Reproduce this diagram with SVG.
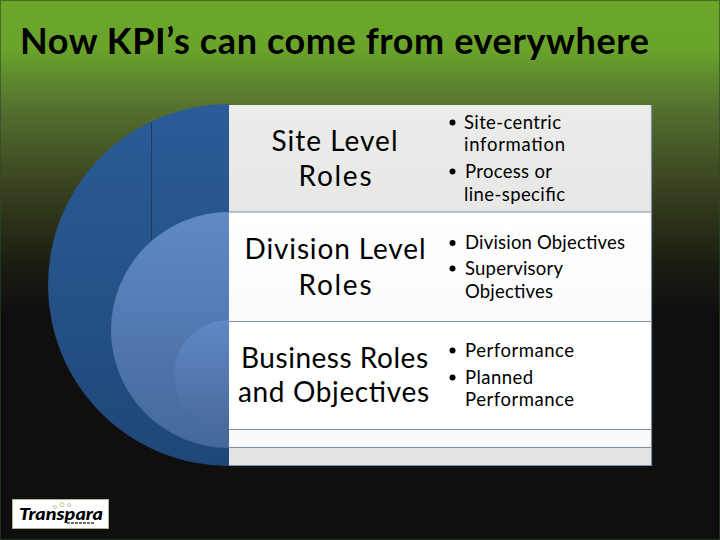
<svg xmlns="http://www.w3.org/2000/svg" width="720" height="540" viewBox="0 0 720 540">
<style>
text{font-family:"Lato","Open Sans","Liberation Sans",sans-serif;fill:#000}
.h{font-size:28px;text-anchor:middle}
.b{font-size:18.500px}
.d{fill:#000}
.rule{stroke:#7d8fa3;stroke-width:1.2}
</style>
<defs>
<linearGradient id="bg" x1="0" y1="0" x2="0" y2="1"><stop offset="0" stop-color="#6ba62b"/><stop offset="0.09" stop-color="#6aa42b"/><stop offset="0.2" stop-color="#557030"/><stop offset="0.34" stop-color="#3a4420"/><stop offset="0.48" stop-color="#1c1f12"/><stop offset="0.58" stop-color="#0f0f0f"/><stop offset="1" stop-color="#0f0f0f"/></linearGradient>
<linearGradient id="c1" x1="0" y1="0" x2="0" y2="1"><stop offset="0" stop-color="#2b5c98"/><stop offset="1" stop-color="#1f4777"/></linearGradient>
<linearGradient id="c2" x1="0" y1="0" x2="0" y2="1"><stop offset="0" stop-color="#6089c6"/><stop offset="1" stop-color="#44689a"/></linearGradient>
<linearGradient id="c3" x1="0" y1="0" x2="0" y2="1"><stop offset="0" stop-color="#5f88c6"/><stop offset="1" stop-color="#49699a"/></linearGradient>
<linearGradient id="r1" x1="0" y1="0" x2="0" y2="1"><stop offset="0" stop-color="#ecedeb"/><stop offset="1" stop-color="#e7e7e6"/></linearGradient>
<linearGradient id="r2" x1="0" y1="0" x2="0" y2="1"><stop offset="0" stop-color="#ffffff"/><stop offset="1" stop-color="#fbfbfd"/></linearGradient>
<clipPath id="left"><rect x="0" y="0" width="229" height="540"/></clipPath>
</defs>
<rect width="720" height="540" fill="url(#bg)"/>
<rect x="0.5" y="0.5" width="719" height="539" fill="none" stroke="#2a4a25" stroke-opacity="0.6"/>
<text id="title" x="20" y="54" font-size="36" font-weight="700" textLength="629" lengthAdjust="spacing">Now KPI’s can come from everywhere</text>
<g id="circles" clip-path="url(#left)">
<circle cx="229" cy="285" r="181" fill="url(#c1)"/>
<line x1="151.500" y1="122" x2="151.500" y2="240" stroke="#1b3d62" stroke-width="1"/>
<circle cx="229" cy="330" r="118" fill="url(#c2)"/>
<circle cx="229" cy="375" r="55" fill="url(#c3)"/>
</g>
<g id="panel">
<rect x="229" y="105" width="422" height="107" fill="url(#r1)"/>
<rect x="229" y="212" width="422" height="109" fill="url(#r2)"/>
<rect x="229" y="321" width="422" height="109" fill="#fff"/>
<rect x="229" y="430" width="422" height="17" fill="#fafafc"/>
<rect x="229" y="447" width="422" height="18" fill="#e3e4e5"/>
<path class="rule" d="M229 212H652M229 321.500H652M229 429.500H652M229 447.500H652" fill="none"/>
<path d="M651.500 105V465.500H229" fill="none" stroke="#7d8fa3" stroke-width="1.200"/>
</g>
<g id="site-level">
<text class="h" x="334.500" y="151" textLength="126" lengthAdjust="spacing">Site Level</text>
<text class="h" x="335" y="186" textLength="73" lengthAdjust="spacing">Roles</text>
<g id="site-bullets">
<circle class="d" cx="452.500" cy="122.500" r="3"/><text class="b" x="464" y="129" textLength="97" lengthAdjust="spacing">Site-centric</text>
<text class="b" x="464" y="151" textLength="101" lengthAdjust="spacing">information</text>
<circle class="d" cx="452.500" cy="171.500" r="3"/><text class="b" x="465" y="178" textLength="87" lengthAdjust="spacing">Process or</text>
<text class="b" x="464" y="201" textLength="101" lengthAdjust="spacing">line-specific</text>
</g>
</g>
<g id="division-level">
<text class="h" x="335" y="259" textLength="181" lengthAdjust="spacing">Division Level</text>
<text class="h" x="335" y="295" textLength="73" lengthAdjust="spacing">Roles</text>
<g id="division-bullets">
<circle class="d" cx="452.500" cy="243" r="3"/><text class="b" x="465" y="249" textLength="160" lengthAdjust="spacing">Division Objectives</text>
<circle class="d" cx="452.500" cy="268.500" r="3"/><text class="b" x="465" y="275" textLength="98" lengthAdjust="spacing">Supervisory</text>
<text class="b" x="465" y="298" textLength="88" lengthAdjust="spacing">Objectives</text>
</g>
</g>
<g id="business-roles">
<text class="h" x="334.500" y="368" textLength="187" lengthAdjust="spacing">Business Roles</text>
<text class="h" x="333.500" y="402" textLength="191" lengthAdjust="spacing">and Objectives</text>
<g id="business-bullets">
<circle class="d" cx="452.500" cy="350.500" r="3"/><text class="b" x="465" y="357" textLength="109" lengthAdjust="spacing">Performance</text>
<circle class="d" cx="452.500" cy="377.500" r="3"/><text class="b" x="465" y="384" textLength="68" lengthAdjust="spacing">Planned</text>
<text class="b" x="465" y="406" textLength="109" lengthAdjust="spacing">Performance</text>
</g>
</g>
<g id="logo">
<rect x="12.500" y="499.500" width="96" height="29" fill="#fff" stroke="#a9b88a" stroke-width="1"/>
<text x="19" y="520" font-size="17" font-weight="900" font-style="italic" textLength="84" lengthAdjust="spacingAndGlyphs">Transpara</text>
<g fill="none" stroke="#a8b67c" stroke-width="0.800"><circle cx="55" cy="507" r="1.500"/><circle cx="62" cy="504.500" r="2"/><circle cx="69" cy="505" r="1.500"/></g>
<line x1="67" y1="523" x2="94" y2="523" stroke="#6e6e5e" stroke-width="2" stroke-dasharray="3 1"/>
</g>
</svg>
